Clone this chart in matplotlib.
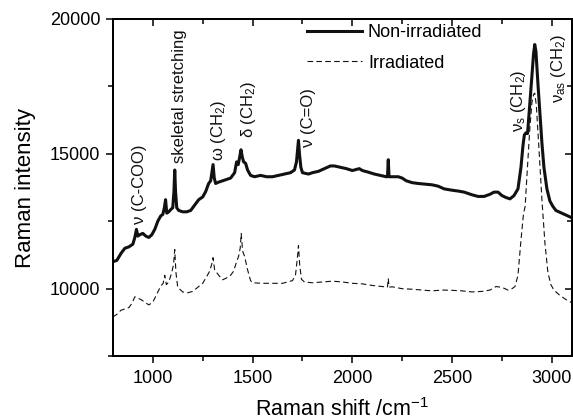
import matplotlib
matplotlib.use("Agg")
import matplotlib.pyplot as plt
from matplotlib.ticker import MultipleLocator

plt.rcParams['font.family'] = ['Liberation Sans', 'DejaVu Sans']
plt.rcParams['mathtext.fontset'] = 'custom'
plt.rcParams['mathtext.rm'] = 'Liberation Sans'
plt.rcParams['mathtext.it'] = 'Liberation Sans'

# Non-irradiated spectrum
x_non = [800, 820, 840, 860, 880, 900, 910, 918, 925, 935, 950, 965, 980, 995,
         1010, 1025, 1040, 1050, 1058, 1064, 1070, 1080, 1092, 1100, 1106, 1110,
         1114, 1120, 1130, 1150, 1170, 1190, 1210, 1230, 1250, 1265, 1280, 1290,
         1296, 1302, 1308, 1315, 1330, 1350, 1370, 1390, 1410, 1420, 1428, 1436,
         1442, 1448, 1455, 1465, 1475, 1490, 1510, 1540, 1570, 1600, 1630, 1660,
         1690, 1710, 1720, 1726, 1730, 1735, 1742, 1750, 1780, 1800, 1830, 1860,
         1890, 1910, 1940, 1970, 2000, 2020, 2035, 2050, 2080, 2110, 2140, 2170,
         2176, 2180, 2184, 2200, 2230, 2250, 2270, 2300, 2330, 2360, 2400, 2430,
         2460, 2500, 2530, 2560, 2600, 2630, 2660, 2690, 2710, 2730, 2750, 2770,
         2790, 2810, 2830, 2845, 2855, 2862, 2870, 2878, 2890, 2900, 2908, 2914,
         2920, 2930, 2940, 2950, 2960, 2975, 2990, 3005, 3020, 3050, 3080, 3100]
y_non = [11000, 11050, 11300, 11500, 11550, 11650, 11900, 12200, 11950, 12000,
         12050, 11950, 11900, 12000, 12200, 12500, 12700, 12750, 13000, 13300,
         12800, 12850, 12950, 13000, 13600, 14400, 13600, 13000, 12900, 12850,
         12850, 12900, 13100, 13300, 13400, 13600, 13900, 14000, 14300, 14600,
         14100, 13900, 13950, 14000, 14050, 14100, 14300, 14700, 14600, 14900,
         15150, 14900, 14700, 14650, 14400, 14200, 14150, 14200, 14150, 14150,
         14200, 14250, 14300, 14400, 14700, 15200, 15500, 15000, 14500, 14300,
         14250, 14300, 14350, 14450, 14550, 14550, 14500, 14450, 14380, 14420,
         14450, 14380, 14320, 14250, 14200, 14150, 14150, 14780, 14150, 14150,
         14150, 14100, 14000, 13930, 13900, 13880, 13850, 13800, 13700, 13650,
         13620, 13580, 13480, 13420, 13420, 13500, 13580, 13580, 13450, 13380,
         13330, 13450, 13700, 14500, 15300, 15700, 15780, 15750, 16900, 17900,
         18700, 19050, 18800, 17600, 16500, 15400, 14500, 13700, 13250, 13050,
         12900, 12800, 12700, 12630]

# Irradiated spectrum
x_irr = [800, 820, 840, 860, 880, 895, 910, 925, 940, 960, 980, 1000, 1020,
         1040, 1052, 1060, 1068, 1080, 1095, 1104, 1110, 1116, 1125, 1150, 1175,
         1200, 1225, 1250, 1270, 1285, 1295, 1302, 1310, 1330, 1350, 1370, 1390,
         1405, 1420, 1430, 1438, 1443, 1450, 1460, 1475, 1490, 1500, 1550, 1600,
         1650, 1700, 1715, 1724, 1730, 1736, 1745, 1760, 1800, 1850, 1900, 1950,
         2000, 2050, 2100, 2150, 2176, 2180, 2184, 2200, 2250, 2300, 2350, 2400,
         2450, 2500, 2550, 2600, 2650, 2690, 2720, 2750, 2780, 2800, 2815, 2830,
         2845, 2858, 2866, 2875, 2890, 2900, 2908, 2914, 2922, 2935, 2950, 2965,
         2980, 2995, 3010, 3040, 3070, 3100]
y_irr = [8950, 9050, 9200, 9250, 9300, 9450, 9700, 9650, 9600, 9500, 9400, 9500,
         9800, 10100, 10200, 10500, 10150, 10250, 10600, 10900, 11450, 10600,
         10050, 9880, 9850, 9900, 10050, 10200, 10450, 10650, 10900, 11150, 10700,
         10500, 10330, 10400, 10500, 10650, 11000, 11200, 11500, 12050, 11400,
         11200, 10700, 10300, 10220, 10200, 10200, 10200, 10300, 10500, 11100,
         11600, 10900, 10350, 10250, 10220, 10250, 10280, 10250, 10200, 10180,
         10120, 10080, 10060, 10380, 10060, 10070, 10000, 9980, 9950, 9920, 9950,
         9940, 9920, 9880, 9900, 9950, 10080, 10050, 9950, 10000, 10080, 10500,
         11800, 12800, 13050, 14200, 16000, 16900, 17200, 17250, 16800, 15200,
         13300, 11700, 10600, 10150, 9950, 9750, 9600, 9480]

# Band annotations: (label, x, y)
band_labels = [r"ν (C-COO)", "skeletal stretching", r"ω (CH$_2$)", r"δ (CH$_2$)",
               r"ν (C=O)", r"ν$_s$ (CH$_2$)", r"ν$_{as}$ (CH$_2$)"]
band_x = [935, 1135, 1330, 1482, 1780, 2832, 3032]
band_y = [12400, 14650, 14750, 15600, 15250, 15800, 16900]

fig = plt.figure(figsize=(5.73, 4.2), dpi=100)
ax = fig.add_axes([0.197, 0.152, 0.801, 0.803])

ax.plot(x_non, y_non, color='#111111', lw=2.2, label='Non-irradiated',
        solid_joinstyle='round')
ax.plot(x_irr, y_irr, color='#111111', lw=0.8, dashes=(5, 3),
        label='Irradiated')

for lab, bx, by in zip(band_labels, band_x, band_y):
    ax.text(bx, by, lab, rotation=90, ha='center', va='bottom', fontsize=12,
            color='#111111')

ax.set_xlim(800, 3100)
ax.set_ylim(7500, 20000)
ax.xaxis.set_major_locator(MultipleLocator(500))
ax.xaxis.set_minor_locator(MultipleLocator(250))
ax.yaxis.set_major_locator(MultipleLocator(5000))
ax.yaxis.set_minor_locator(MultipleLocator(2500))
ax.tick_params(which='both', direction='out', labelsize=13, width=1.1)
ax.tick_params(which='major', length=5)
ax.tick_params(which='minor', length=3.5)
ax.tick_params(axis='x', pad=5)
ax.tick_params(axis='y', pad=4)

# inward ticks on top and right
axt = ax.twiny()
axt.set_xlim(ax.get_xlim())
axt.xaxis.set_major_locator(MultipleLocator(500))
axt.xaxis.set_minor_locator(MultipleLocator(250))
axt.tick_params(axis='x', which='both', direction='in', top=True,
                labeltop=False, width=1.1)
axt.tick_params(axis='x', which='major', length=5)
axt.tick_params(axis='x', which='minor', length=3.5)
axr = ax.twinx()
axr.set_ylim(ax.get_ylim())
axr.yaxis.set_major_locator(MultipleLocator(5000))
axr.yaxis.set_minor_locator(MultipleLocator(2500))
axr.tick_params(axis='y', which='both', direction='in', right=True,
                labelright=False, width=1.1)
axr.tick_params(axis='y', which='major', length=5)
axr.tick_params(axis='y', which='minor', length=3.5)

for a in (ax, axt, axr):
    for s in a.spines.values():
        s.set_linewidth(1.2)

ax.set_xlabel(r"Raman shift /cm$^{-1}$", fontsize=15.5, labelpad=8)
ax.set_ylabel("Raman intensity", fontsize=16, labelpad=10)

leg = ax.legend(loc='upper left', bbox_to_anchor=(0.424, 0.985), frameon=False,
                fontsize=13, handlelength=3.0, handletextpad=0.35,
                labelspacing=0.75, borderpad=0, borderaxespad=0)

fig.savefig("out.png", dpi=100)
